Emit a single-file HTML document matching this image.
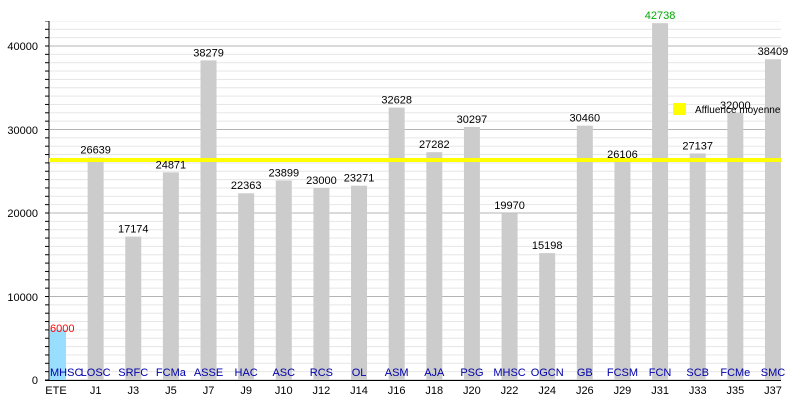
<!DOCTYPE html>
<html><head><meta charset="utf-8"><style>body{margin:0;background:#fff}svg{display:block;font-family:"Liberation Sans",sans-serif}</style></head><body>
<svg width="800" height="400" viewBox="0 0 800 400" xmlns="http://www.w3.org/2000/svg">
<defs>
<pattern id="gp" patternUnits="userSpaceOnUse" x="0" y="379.5" width="800" height="83.5">
<rect x="0" y="0" width="800" height="1" fill="#b4b4b4"/>
<rect x="0" y="8.35" width="800" height="1" fill="#e6e6e6"/>
<rect x="0" y="16.7" width="800" height="1" fill="#e6e6e6"/>
<rect x="0" y="25.05" width="800" height="1" fill="#e6e6e6"/>
<rect x="0" y="33.4" width="800" height="1" fill="#e6e6e6"/>
<rect x="0" y="41.75" width="800" height="1" fill="#e6e6e6"/>
<rect x="0" y="50.1" width="800" height="1" fill="#e6e6e6"/>
<rect x="0" y="58.45" width="800" height="1" fill="#e6e6e6"/>
<rect x="0" y="66.8" width="800" height="1" fill="#e6e6e6"/>
<rect x="0" y="75.15" width="800" height="1" fill="#e6e6e6"/>
</pattern>
<pattern id="tp" patternUnits="userSpaceOnUse" x="0" y="379.5" width="800" height="8.35">
<rect x="0" y="0" width="800" height="1" fill="#000"/>
</pattern>
</defs>
<rect x="50" y="21" width="731" height="359" fill="url(#gp)"/>
<rect x="45" y="21" width="4" height="360" fill="url(#tp)"/>
<g fill="#cccccc">
<rect x="50" y="329.9" width="16" height="50.1" fill="#99ddff"/>
<rect x="87.63" y="157.56" width="16" height="222.44"/>
<rect x="125.26" y="236.6" width="16" height="143.4"/>
<rect x="162.89" y="172.33" width="16" height="207.67"/>
<rect x="200.52" y="60.37" width="16" height="319.63"/>
<rect x="238.15" y="193.27" width="16" height="186.73"/>
<rect x="275.78" y="180.44" width="16" height="199.56"/>
<rect x="313.41" y="187.95" width="16" height="192.05"/>
<rect x="351.04" y="185.69" width="16" height="194.31"/>
<rect x="388.67" y="107.56" width="16" height="272.44"/>
<rect x="426.3" y="152.2" width="16" height="227.8"/>
<rect x="463.93" y="127.02" width="16" height="252.98"/>
<rect x="501.56" y="213.25" width="16" height="166.75"/>
<rect x="539.19" y="253.1" width="16" height="126.9"/>
<rect x="576.82" y="125.66" width="16" height="254.34"/>
<rect x="614.45" y="162.01" width="16" height="217.99"/>
<rect x="652.08" y="23.14" width="16" height="356.86"/>
<rect x="689.71" y="153.41" width="16" height="226.59"/>
<rect x="727.34" y="112.8" width="16" height="267.2"/>
<rect x="764.97" y="59.28" width="16" height="320.72"/>
</g>
<line x1="49" y1="21" x2="49" y2="380" stroke="#000"/>
<line x1="45" y1="380.5" x2="781" y2="380.5" stroke="#000"/>
<rect x="49" y="158" width="732" height="4" fill="#ffff00"/>
<rect x="673" y="103" width="13" height="12" fill="#ffff00"/>
<text x="695" y="113" font-size="10">Affluence moyenne</text>
<g font-size="11" text-anchor="end">
<text x="38" y="50">40000</text><text x="38" y="134">30000</text><text x="38" y="217">20000</text><text x="38" y="301">10000</text><text x="38" y="384">0</text>
</g>
<g font-size="11" text-anchor="middle">
<text x="50" y="332" fill="#ff0000" text-anchor="start">6000</text>
<text x="95.63" y="153.5">26639</text>
<text x="133.26" y="232.5">17174</text>
<text x="170.89" y="168.3">24871</text>
<text x="208.52" y="56.3">38279</text>
<text x="246.15" y="189.2">22363</text>
<text x="283.78" y="176.4">23899</text>
<text x="321.41" y="183.9">23000</text>
<text x="359.04" y="181.6">23271</text>
<text x="396.67" y="103.5">32628</text>
<text x="434.3" y="148.2">27282</text>
<text x="471.93" y="123">30297</text>
<text x="509.56" y="209.2">19970</text>
<text x="547.19" y="249.1">15198</text>
<text x="584.82" y="121.6">30460</text>
<text x="622.45" y="158">26106</text>
<text x="660.08" y="19" fill="#00aa00">42738</text>
<text x="697.71" y="149.4">27137</text>
<text x="735.34" y="108.8">32000</text>
<text x="772.97" y="55.2">38409</text>
</g>
<g font-size="11" text-anchor="middle" fill="#0000aa">
<text x="50" y="376" text-anchor="start">MHSC</text><text x="95.63" y="376">LOSC</text><text x="133.26" y="376">SRFC</text><text x="170.89" y="376">FCMa</text><text x="208.52" y="376">ASSE</text><text x="246.15" y="376">HAC</text><text x="283.78" y="376">ASC</text><text x="321.41" y="376">RCS</text><text x="359.04" y="376">OL</text><text x="396.67" y="376">ASM</text><text x="434.3" y="376">AJA</text><text x="471.93" y="376">PSG</text><text x="509.56" y="376">MHSC</text><text x="547.19" y="376">OGCN</text><text x="584.82" y="376">GB</text><text x="622.45" y="376">FCSM</text><text x="660.08" y="376">FCN</text><text x="697.71" y="376">SCB</text><text x="735.34" y="376">FCMe</text><text x="772.97" y="376">SMC</text>
</g>
<g font-size="11" text-anchor="middle" fill="#000">
<text x="56" y="394">ETE</text><text x="95.63" y="394">J1</text><text x="133.26" y="394">J3</text><text x="170.89" y="394">J5</text><text x="208.52" y="394">J7</text><text x="246.15" y="394">J9</text><text x="283.78" y="394">J10</text><text x="321.41" y="394">J12</text><text x="359.04" y="394">J14</text><text x="396.67" y="394">J16</text><text x="434.3" y="394">J18</text><text x="471.93" y="394">J20</text><text x="509.56" y="394">J22</text><text x="547.19" y="394">J24</text><text x="584.82" y="394">J26</text><text x="622.45" y="394">J29</text><text x="660.08" y="394">J31</text><text x="697.71" y="394">J33</text><text x="735.34" y="394">J35</text><text x="772.97" y="394">J37</text>
</g>
</svg>
</body></html>
